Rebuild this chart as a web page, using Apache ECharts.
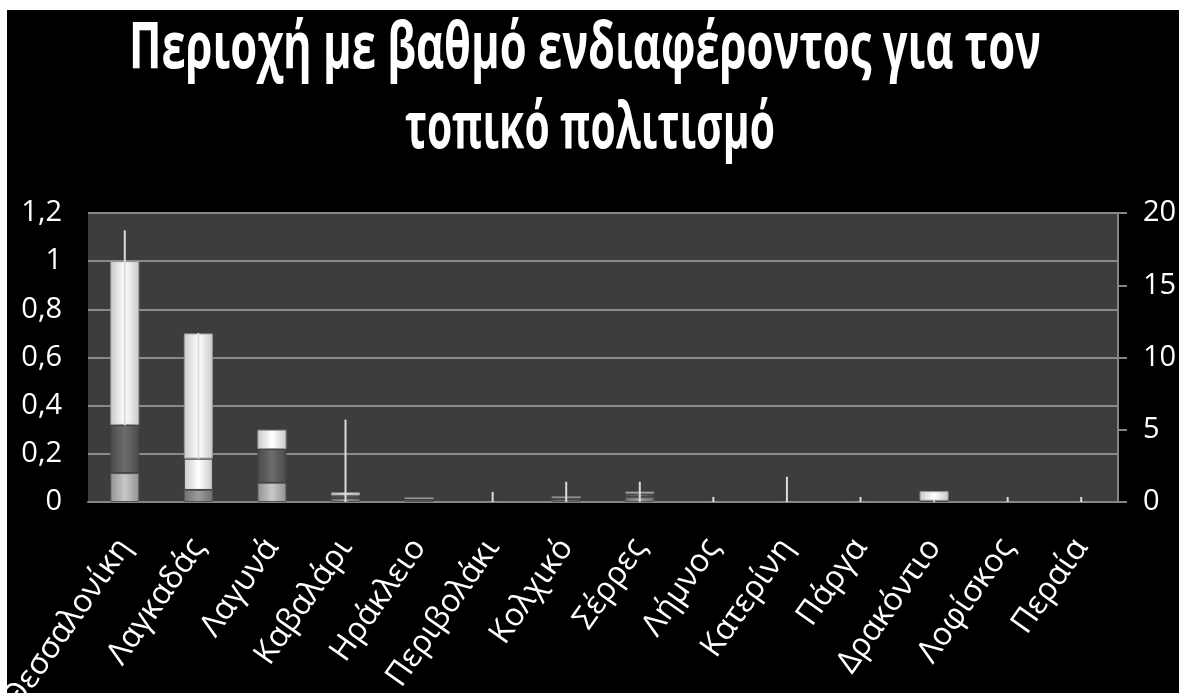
<!DOCTYPE html>
<html>
<head>
<meta charset="utf-8">
<script src="https://cdn.jsdelivr.net/npm/echarts@6/dist/echarts.min.js"></script>
<style>
html,body{margin:0;padding:0;background:#fff;width:1179px;height:693px;overflow:hidden;}
#main{position:absolute;left:7px;top:10px;width:1172px;height:683px;}
</style>
</head>
<body>
<div id="main"></div>
<script>
const titleLines = ['Περιοχή με βαθμό ενδιαφέροντος για τον', 'τοπικό πολιτισμό'];
const categories = ['Θεσσαλονίκη','Λαγκαδάς','Λαγυνά','Καβαλάρι','Ηράκλειο','Περιβολάκι','Κολχικό','Σέρρες','Λήμνος','Κατερίνη','Πάργα','Δρακόντιο','Λοφίσκος','Περαία'];
const leftTicks = [0, 0.2, 0.4, 0.6, 0.8, 1, 1.2];
const rightTicks = [0, 5, 10, 15, 20];
// stacked segments (left axis)
const segBottom = [0.12, 0.05, 0.08, 0.015, 0.008, 0, 0.01, 0.02, 0, 0, 0, 0.005, 0, 0];
const segMiddle = [0.20, 0.13, 0.14, 0.012, 0.008, 0, 0.01, 0.015, 0, 0, 0, 0, 0, 0];
const segTop    = [0.68, 0.52, 0.08, 0.013, 0, 0, 0, 0.008, 0, 0, 0, 0.04, 0, 0];
// thin vertical lines (right axis)
const lineLow  = [5.3, 3.0, null, 0, null, 0, 0, 0, 0, 0, 0, 0, 0, 0];
const lineHigh = [18.8, 11.7, null, 5.7, null, 0.7, 1.4, 1.4, 0.35, 1.75, 0.35, 0.1, 0.35, 0.35];

const middleTone = ['dark','light','dark','dark','dark','dark','dark','dark','dark','dark','dark','dark','dark','dark'];
const bottomTone = ['light','mid','light','mid','mid','mid','mid','mid','mid','mid','mid','mid','mid','mid'];

function grad(edge, center){
  return new echarts.graphic.LinearGradient(0,0,1,0,[
    {offset:0,color:edge},{offset:0.5,color:center},{offset:1,color:edge}
  ]);
}
const tones = {
  white: grad('#c9c9c9','#ffffff'),
  light: grad('#929292','#c8c8c8'),
  mid:   grad('#707070','#9c9c9c'),
  dark:  grad('#4a4a4a','#6c6c6c')
};

const chart = echarts.init(document.getElementById('main'), null, {renderer:'canvas'});

const ctx = document.createElement('canvas').getContext('2d');
const titleFont = 'bold 64px "Open Sans"';
ctx.font = titleFont;
const w1 = ctx.measureText(titleLines[0]).width;
const w2 = ctx.measureText(titleLines[1]).width;
const sx1 = 912 / w1, sx2 = 370 / w2;

const barW = 29;

const option = {
  backgroundColor: '#000',
  animation: false,
  graphic: [
    {type:'text', x:578, y:40, scaleX:sx1, z:100,
     style:{text:titleLines[0], fill:'#fff', font:titleFont, align:'center', verticalAlign:'middle', textAlign:'center', textVerticalAlign:'middle'}},
    {type:'text', x:583, y:120, scaleX:sx2, z:100,
     style:{text:titleLines[1], fill:'#fff', font:titleFont, align:'center', verticalAlign:'middle', textAlign:'center', textVerticalAlign:'middle'}}
  ],
  grid: {left:81, right:61, top:203, bottom:191, show:true, backgroundColor:'#3d3d3d', borderWidth:0,
         containLabel:false, outerBoundsMode:'none'},
  xAxis: {
    type:'category', data:categories,
    axisLine:{show:true, lineStyle:{color:'#858585', width:2}},
    axisTick:{show:false},
    axisLabel:{rotate:55, interval:0, color:'#fff', fontSize:32, fontFamily:'"Open Sans"', margin:40}
  },
  yAxis: [
    {type:'value', min:0, max:1.2, interval:0.2, position:'left',
     axisLine:{show:false}, axisTick:{show:false},
     splitLine:{show:true, lineStyle:{color:'#8a8a8a', width:2}},
     axisLabel:{color:'#fff', fontSize:29, fontFamily:'"Open Sans"', margin:26,
       formatter:v => String(Math.round(v*10)/10).replace('.', ',')}},
    {type:'value', min:0, max:20, interval:5, position:'right',
     axisLine:{show:true, lineStyle:{color:'#858585', width:2}},
     axisTick:{show:true, length:9, lineStyle:{color:'#858585', width:2}},
     splitLine:{show:false},
     axisLabel:{color:'#fff', fontSize:29, fontFamily:'"Open Sans"', margin:25}}
  ],
  series: [
    {type:'bar', stack:'s', barWidth:barW, yAxisIndex:0,
     data: segBottom.map((v,i)=>({value:v, itemStyle:{color:tones[bottomTone[i]], borderColor:'#555', borderWidth:1}}))},
    {type:'bar', stack:'s', barWidth:barW, yAxisIndex:0,
     data: segMiddle.map((v,i)=>({value:v, itemStyle:{color:tones[middleTone[i]==='light'?'white':'dark'], borderColor:'#444', borderWidth:1}}))},
    {type:'bar', stack:'s', barWidth:barW, yAxisIndex:0,
     itemStyle:{color:tones.white, borderColor:'#9a9a9a', borderWidth:1},
     data: segTop},
    {type:'custom', yAxisIndex:1, z:5,
     data: lineHigh.map((h,i)=>[i, lineLow[i], h]),
     renderItem: function(params, api){
       const lo = api.value(1), hi = api.value(2);
       if (hi == null || isNaN(hi)) return null;
       const p1 = api.coord([api.value(0), lo]);
       const p2 = api.coord([api.value(0), hi]);
       return {type:'line', shape:{x1:p1[0], y1:p1[1], x2:p2[0], y2:p2[1]},
               style:{stroke:'#dcdcdc', lineWidth:2}};
     }}
  ]
};
chart.setOption(option);
</script>
</body>
</html>
